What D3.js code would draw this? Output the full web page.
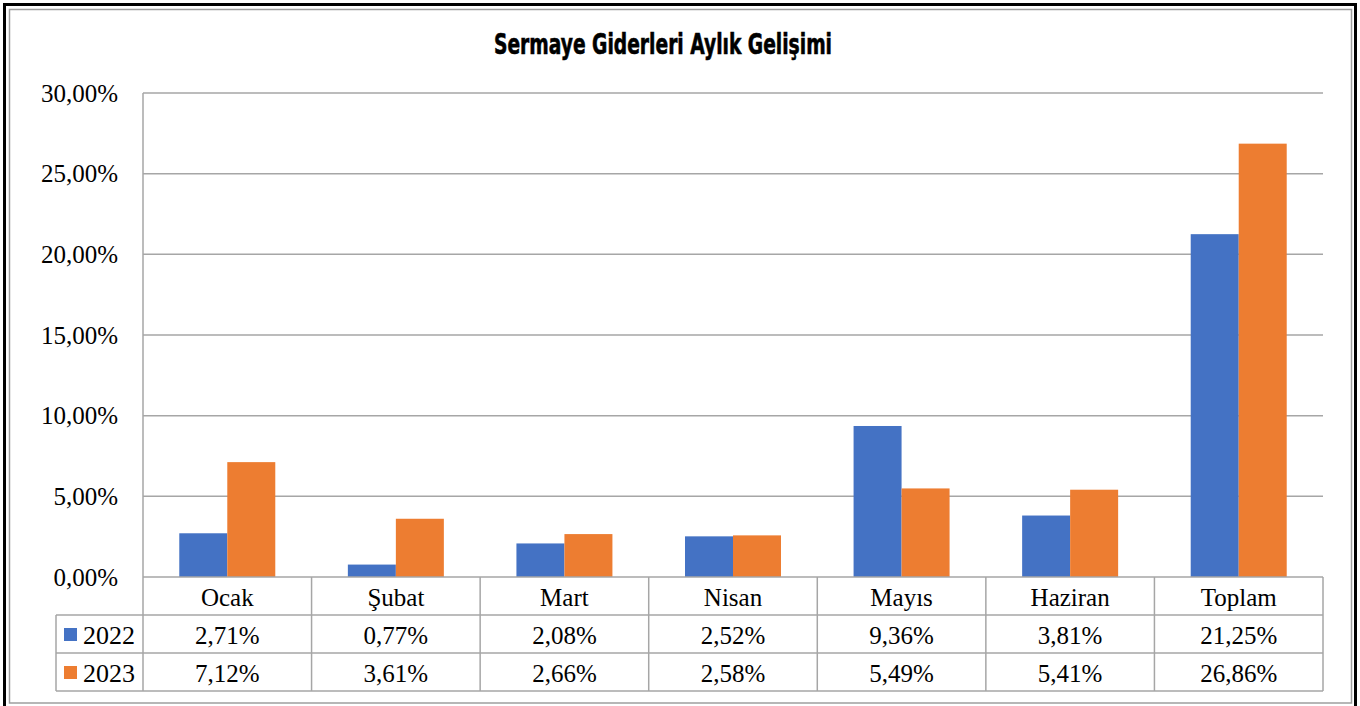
<!DOCTYPE html>
<html><head><meta charset="utf-8">
<script src="https://cdn.jsdelivr.net/npm/d3@7"></script>
<style>body{margin:0;background:#fff}svg{display:block}</style>
</head><body><svg id="c" width="1360" height="706"></svg>
<script>
const categories = ["Ocak","Şubat","Mart","Nisan","Mayıs","Haziran","Toplam"];
const seriesNames = ["2022","2023"];
const values2022 = [2.71,0.77,2.08,2.52,9.36,3.81,21.25];
const values2023 = [7.12,3.61,2.66,2.58,5.49,5.41,26.86];
const yTicks = [0,5,10,15,20,25,30];
const title = "Sermaye Giderleri Aylık Gelişimi";
const colors = ["#4472C4","#ED7D31"];
const series = [values2022, values2023];

const svg = d3.select("#c");
const fmt = v => v.toFixed(2).replace(".", ",") + "%";

// frame
svg.append("rect").attr("x",4.5).attr("y",4.5).attr("width",1351).attr("height",720)
  .attr("fill","none").attr("stroke","#000").attr("stroke-width",3);
svg.append("rect").attr("x",9.5).attr("y",9.5).attr("width",1342).attr("height",693.5)
  .attr("fill","none").attr("stroke","#9e9e9e").attr("stroke-width",1.5);

const L=143, R=1323, T=93, B=577;
const x = d3.scaleBand().domain(categories).range([L,R]).padding(0);
const xs = d3.scaleBand().domain(seriesNames).range([0,x.bandwidth()]).paddingInner(0).paddingOuter(0.756);
const y = d3.scaleLinear().domain([0,30]).range([B,T]);

// title
svg.append("text").attr("x",663).attr("y",54).attr("text-anchor","middle")
  .attr("font-family","'DejaVu Sans Condensed','DejaVu Sans',sans-serif").attr("font-weight","bold")
  .attr("font-size",28).attr("textLength",338).attr("lengthAdjust","spacingAndGlyphs")
  .attr("stroke","#000").attr("stroke-width",0.6)
  .text(title);

const gridColor="#a6a6a6";
// gridlines
svg.append("g").selectAll("line").data(yTicks.filter(t=>t>0)).join("line")
  .attr("x1",L).attr("x2",R).attr("y1",d=>y(d)).attr("y2",d=>y(d))
  .attr("stroke",gridColor).attr("stroke-width",1.5);

// y tick labels
svg.append("g").selectAll("text").data(yTicks).join("text")
  .attr("x",118).attr("y",d=>y(d)).attr("dy","0.35em").attr("text-anchor","end")
  .attr("font-family","'Liberation Serif','Times New Roman',serif").attr("font-size",25)
  .attr("fill","#000").text(d=>fmt(d));

// bars
seriesNames.forEach((s,i)=>{
  svg.append("g").selectAll("rect").data(categories).join("rect")
    .attr("x",c=>x(c)+xs(s)).attr("width",xs.bandwidth())
    .attr("y",(c,j)=>y(series[i][j])).attr("height",(c,j)=>B-y(series[i][j]))
    .attr("fill",colors[i]);
});

// table
const rowH=38;
const rows=[B, B+rowH, B+2*rowH, B+3*rowH];
const legL=56;
const tg=svg.append("g").attr("stroke",gridColor).attr("stroke-width",1.5);
tg.append("line").attr("x1",L).attr("x2",R).attr("y1",B).attr("y2",B);
tg.append("line").attr("x1",legL).attr("x2",R).attr("y1",rows[1]).attr("y2",rows[1]);
tg.append("line").attr("x1",legL).attr("x2",R).attr("y1",rows[2]).attr("y2",rows[2]);
tg.append("line").attr("x1",legL).attr("x2",R).attr("y1",rows[3]).attr("y2",rows[3]);
tg.append("line").attr("x1",L).attr("x2",L).attr("y1",T).attr("y2",rows[3]);
tg.append("line").attr("x1",legL).attr("x2",legL).attr("y1",rows[1]).attr("y2",rows[3]);
tg.selectAll(".v").data(categories).join("line")
  .attr("x1",c=>x(c)+x.bandwidth()).attr("x2",c=>x(c)+x.bandwidth())
  .attr("y1",B).attr("y2",rows[3]);

const tf="'Liberation Serif','Times New Roman',serif";
svg.append("g").selectAll("text").data(categories).join("text")
  .attr("x",c=>x(c)+x.bandwidth()/2).attr("y",B+rowH/2+1).attr("dy","0.35em")
  .attr("text-anchor","middle").attr("font-family",tf).attr("font-size",25).text(c=>c);

seriesNames.forEach((s,i)=>{
  const cy=rows[i+1]+rowH/2+1;
  svg.append("rect").attr("x",64).attr("y",cy-7).attr("width",13).attr("height",13).attr("fill",colors[i]);
  svg.append("text").attr("x",83).attr("y",cy).attr("dy","0.35em")
    .attr("font-family",tf).attr("font-size",26).text(s);
  svg.append("g").selectAll("text").data(categories).join("text")
    .attr("x",c=>x(c)+x.bandwidth()/2).attr("y",cy).attr("dy","0.35em")
    .attr("text-anchor","middle").attr("font-family",tf).attr("font-size",25)
    .text((c,j)=>fmt(series[i][j]));
});
</script></body></html>
